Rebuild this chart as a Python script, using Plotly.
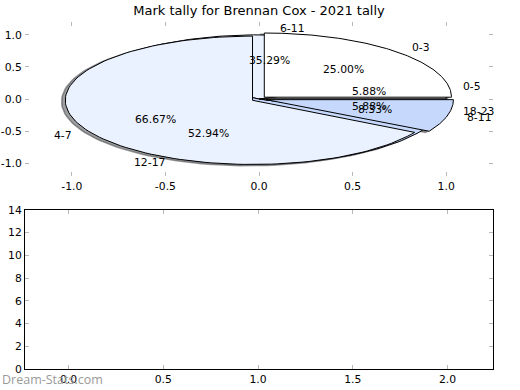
import numpy as np
import plotly.graph_objects as go

# ---------------- data ----------------
title_text = "Mark tally for Brennan Cox - 2021 tally"
pie_a_labels = ["0-3", "4-7", "8-11"]
pie_a_values = [3, 8, 1]
pie_b_labels = ["0-5", "6-11", "12-17", "18-23"]
pie_b_values = [1, 6, 9, 1]
top_ticks = [-1.0, -0.5, 0.0, 0.5, 1.0]
bottom_xticks = [0.0, 0.5, 1.0, 1.5, 2.0]
bottom_yticks = [0, 2, 4, 6, 8, 10, 12, 14]
watermark = "Dream-Stats.com"

# ---------------- style ----------------
FONT = "DejaVu Sans"
FS = 10.8
colors_a = ["#ffffff", "#eaf1ff", "#c6d9fd"]
colors_b = ["#ffffff", "#eaf1ff", "#c6d9fd", "#ffffff"]
explode_a = 0.04
shadow_off = (-0.02, -0.02)
SHADOW = "rgba(60,62,66,0.5)"
W, H = 520, 390
ML, MR, MT, MB = 25, 27, 22, 21
PW, PH = W - ML - MR, H - MT - MB

fig = go.Figure()


def wedges(values, explode):
    total = float(sum(values))
    out = []
    start = 0.0
    for v in values:
        span = 360.0 * v / total
        t1, t2 = start, start + span
        mid = np.deg2rad((t1 + t2) / 2)
        cx, cy = explode * np.cos(mid), explode * np.sin(mid)
        th = np.deg2rad(np.linspace(t1, t2, 120))
        xs = np.concatenate([[cx], cx + np.cos(th), [cx]])
        ys = np.concatenate([[cy], cy + np.sin(th), [cy]])
        out.append(dict(xs=xs, ys=ys, cx=cx, cy=cy, mid=mid, pct=100 * v / total))
        start = t2
    return out


wb = wedges(pie_b_values, 0.0)
wa = wedges(pie_a_values, explode_a)

# shadows of both pies first
for w in wb + wa:
    fig.add_trace(go.Scatter(x=w["xs"] + shadow_off[0], y=w["ys"] + shadow_off[1], mode="lines",
                             fill="toself", fillcolor=SHADOW, line=dict(color=SHADOW, width=1.5),
                             hoverinfo="skip", showlegend=False, xaxis="x", yaxis="y"))
# pie B (underneath), then pie A
for ws, cols in ((wb, colors_b), (wa, colors_a)):
    for w, c in zip(ws, cols):
        fig.add_trace(go.Scatter(x=w["xs"], y=w["ys"], mode="lines", fill="toself", fillcolor=c,
                                 line=dict(color="black", width=1), hoverinfo="skip",
                                 showlegend=False, xaxis="x", yaxis="y"))

annotations = []
for ws, labels in ((wb, pie_b_labels), (wa, pie_a_labels)):
    for w, lab in zip(ws, labels):
        lx = w["cx"] + 1.1 * np.cos(w["mid"])
        ly = w["cy"] + 1.1 * np.sin(w["mid"])
        annotations.append(dict(x=lx, y=ly, xref="x", yref="y", text=lab, showarrow=False,
                                xanchor="left" if lx > 0 else "right", yanchor="middle",
                                font=dict(family=FONT, size=FS, color="black")))
        px = w["cx"] + 0.6 * np.cos(w["mid"])
        py = w["cy"] + 0.6 * np.sin(w["mid"])
        annotations.append(dict(x=px, y=py, xref="x", yref="y", text=f"{w['pct']:.2f}%",
                                showarrow=False, xanchor="center", yanchor="middle",
                                font=dict(family=FONT, size=FS, color="black")))

# empty bottom subplot
fig.add_trace(go.Scatter(x=[], y=[], xaxis="x2", yaxis="y2", showlegend=False))

annotations.append(dict(x=-ML / PW, y=-11 / PH, xref="paper", yref="paper",
                        text=watermark, showarrow=False, xanchor="left", yanchor="middle",
                        font=dict(family="Open Sans", size=12.5, color="#9a9a9a")))

top_dom = [(PH - 154) / PH, 1.0]
bot_dom = [0.0, 159 / PH]

tick_common = dict(ticks="inside", ticklen=4, tickcolor="#b8b8b8", tickwidth=1,
                   showgrid=False, zeroline=False, automargin=False,
                   tickfont=dict(family=FONT, size=FS, color="black"))

fig.update_layout(
    width=W, height=H,
    margin=dict(l=ML, r=MR, t=MT, b=MB, autoexpand=False),
    paper_bgcolor="white", plot_bgcolor="white",
    title=dict(text=title_text, x=(ML + PW / 2) / W, xanchor="center", xref="container",
               y=1 - 10 / H, yanchor="middle", yref="container", automargin=False,
               font=dict(family=FONT, size=13, color="black")),
    xaxis=dict(domain=[0, 1], range=[-1.25, 1.25], anchor="y", tickvals=top_ticks,
               ticktext=[f"{v:.1f}" for v in top_ticks], showline=True,
               linecolor="rgba(0,0,0,0)", mirror="ticks", **tick_common),
    yaxis=dict(domain=top_dom, range=[-1.2, 1.2], anchor="x", tickvals=top_ticks,
               ticktext=[f"{v:.1f}" for v in top_ticks], showline=True,
               linecolor="rgba(0,0,0,0)", mirror="ticks", **tick_common),
    xaxis2=dict(domain=[0, 1], range=[-0.23, 2.24], anchor="y2", tickvals=bottom_xticks,
                ticktext=[f"{v:.1f}" for v in bottom_xticks], showline=True,
                linecolor="black", linewidth=1, mirror="ticks", **tick_common),
    yaxis2=dict(domain=bot_dom, range=[0, 14], anchor="x2", tickvals=bottom_yticks,
                showline=True, linecolor="black", linewidth=1, mirror="ticks", **tick_common),
    annotations=annotations,
)

# remove the browser's default 8px body margin so the figure sits at the page origin
fig.write_html("out.html", config={"displayModeBar": False},
               post_script="document.body.style.margin='0px';")
